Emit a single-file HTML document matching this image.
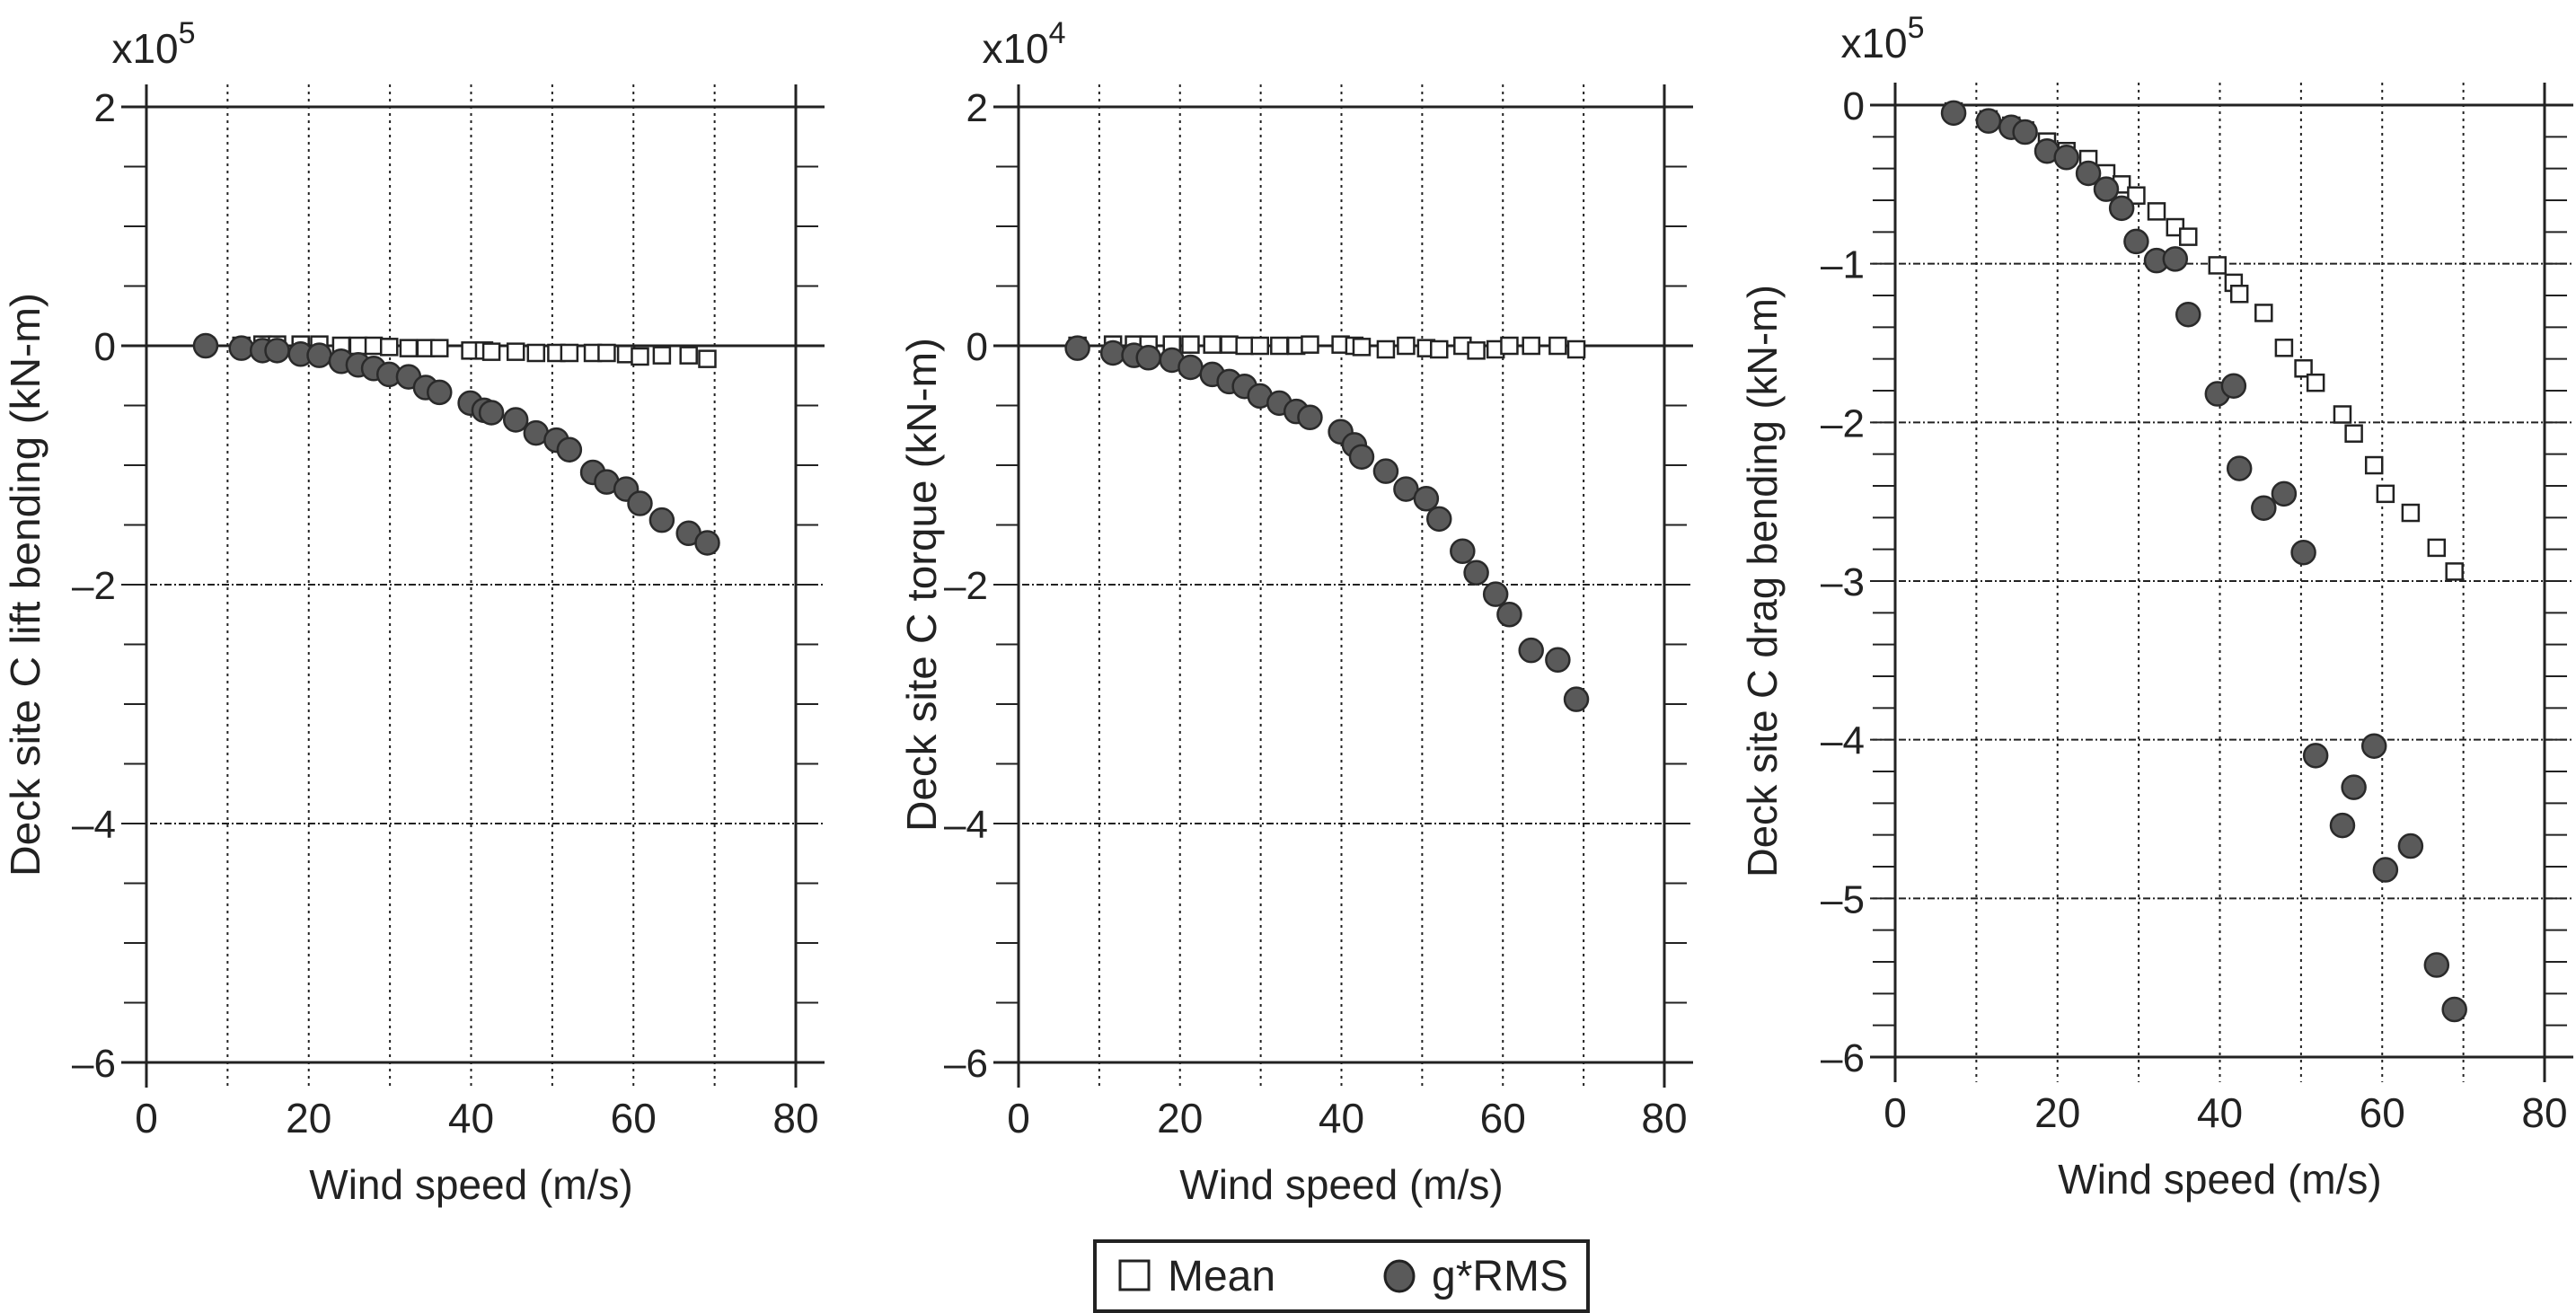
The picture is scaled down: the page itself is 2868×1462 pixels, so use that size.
<!DOCTYPE html>
<html><head><meta charset="utf-8"><style>
html,body{margin:0;padding:0;background:#fff;}
svg{display:block;font-family:"Liberation Sans",Arial,sans-serif;}
</style></head><body>
<svg id="chart" width="2868" height="1462" viewBox="0 0 2868 1462" xmlns="http://www.w3.org/2000/svg">
<g id="plots"></g>
<g>
<rect x="1219" y="1382" width="549" height="78" fill="#fff" stroke="#222" stroke-width="4"/>
<rect x="1247" y="1404" width="32" height="32" fill="#fff" stroke="#222" stroke-width="3"/>
<text x="1300" y="1437" font-size="48" fill="#222">Mean</text>
<ellipse cx="1558" cy="1421" rx="16" ry="17" fill="#5a5a5a" stroke="#222" stroke-width="3"/>
<text x="1594" y="1437" font-size="48" fill="#222">g*RMS</text>
</g>
</svg>
<script>
const wind = [7.3,11.7,14.3,16.1,19,21.3,24,26.1,28,29.9,32.3,34.4,36.1,39.9,41.6,42.5,45.5,48,50.5,52.1,55,56.7,59.1,60.8,63.5,66.8,69.1];
const liftMean = [0,0,0.01,0.01,0.01,0.01,0,0,0,-0.01,-0.02,-0.02,-0.02,-0.04,-0.04,-0.05,-0.05,-0.06,-0.06,-0.06,-0.06,-0.06,-0.07,-0.09,-0.08,-0.08,-0.11];
const liftRms = [0,-0.02,-0.04,-0.04,-0.07,-0.08,-0.13,-0.16,-0.19,-0.24,-0.26,-0.35,-0.39,-0.48,-0.54,-0.56,-0.62,-0.73,-0.79,-0.87,-1.06,-1.14,-1.2,-1.32,-1.46,-1.57,-1.65];
const torqueMean = [0,0.01,0.01,0.01,0.01,0.01,0.01,0.01,0,0,0,0,0.01,0.01,0,-0.01,-0.03,0,-0.02,-0.03,0,-0.04,-0.03,0,0,0,-0.03];
const torqueRms = [-0.02,-0.06,-0.08,-0.1,-0.12,-0.18,-0.24,-0.3,-0.34,-0.42,-0.48,-0.55,-0.6,-0.72,-0.83,-0.93,-1.05,-1.2,-1.28,-1.45,-1.72,-1.9,-2.08,-2.25,-2.55,-2.63,-2.96];
const windDrag = [7.2,11.5,14.3,16,18.7,21.1,23.8,26,27.9,29.7,32.2,34.5,36.1,39.7,41.7,42.4,45.4,47.9,50.3,51.8,55.1,56.5,59,60.4,63.5,66.7,68.9];
const dragMean = [-0.04,-0.09,-0.13,-0.16,-0.23,-0.29,-0.34,-0.43,-0.5,-0.57,-0.67,-0.77,-0.83,-1.01,-1.12,-1.19,-1.31,-1.53,-1.66,-1.75,-1.95,-2.07,-2.27,-2.45,-2.57,-2.79,-2.94];
const dragRms = [-0.05,-0.1,-0.14,-0.17,-0.29,-0.33,-0.43,-0.53,-0.65,-0.86,-0.98,-0.97,-1.32,-1.82,-1.77,-2.29,-2.54,-2.45,-2.82,-4.1,-4.54,-4.3,-4.04,-4.82,-4.67,-5.42,-5.7];
const xTicks = [0,20,40,60,80];
const yTicksA = [2,0,-2,-4,-6];
const yTicksC = [0,-1,-2,-3,-4,-5,-6];

const NS="http://www.w3.org/2000/svg";
const root=document.getElementById('plots');
function mk(tag,attrs,parent){const e=document.createElementNS(NS,tag);for(const k in attrs)e.setAttribute(k,attrs[k]);(parent||root).appendChild(e);return e;}

function panel(o){
  const g=mk('g',{});
  
  
  const xs=v=>o.L+(v-0)/80*(o.R-o.L);
  const ys=v=>o.T+(o.ymax-v)/(o.ymax-o.ymin)*(o.B-o.T);
  for(let v=0;v<=80;v+=10){
    const solid=(v===0||v===80);
    const l=mk('line',{x1:xs(v),x2:xs(v),y1:o.T-25,y2:o.B+28,stroke:'#222','stroke-width':solid?3:2,'stroke-dasharray':solid?'':'3,5'},g);
    
    
  }
  for(let v=o.ymax;v>=o.ymin-1e-9;v-=o.major){
    const solid=(Math.abs(v-o.ymax)<1e-9||Math.abs(v-o.ymin)<1e-9||(o.zeroSolid&&Math.abs(v)<1e-9));
    const l=mk('line',{x1:o.L-28,x2:o.R+32,y1:ys(v),y2:ys(v),stroke:'#222','stroke-width':solid?3:2,'stroke-dasharray':solid?'':'8,3,2,3'},g);
    
    
  }
  for(let v=o.ymax;v>=o.ymin-1e-9;v-=o.minor){
    mk('line',{x1:o.L-25,x2:o.L,y1:ys(v),y2:ys(v),stroke:'#222','stroke-width':2},g);
    mk('line',{x1:o.R,x2:o.R+25,y1:ys(v),y2:ys(v),stroke:'#222','stroke-width':2},g);
  }
  xTicks.forEach(v=>{
    const t=mk('text',{x:xs(v),y:o.B+78,'font-size':46,'text-anchor':'middle',fill:'#222'},g);
    
    
    t.textContent=v;
  });
  o.yTicks.forEach(v=>{
    const t=mk('text',{x:o.L-34,y:ys(v)+16,'font-size':44,'text-anchor':'end',fill:'#222'},g);
    
    
    t.textContent=v<0?'\u2013'+(-v):String(v);
  });
  const ex=mk('text',{x:o.L+o.expDx,y:o.expY,'font-size':46,fill:'#222','text-anchor':'middle'},g);
  
  
  ex.innerHTML='x10<tspan dy="-22" font-size="34">'+o.exp+'</tspan>';
  const xt=mk('text',{x:(o.L+o.R)/2,y:o.B+152,'font-size':46,'text-anchor':'middle',fill:'#222'},g);
  
  
  xt.textContent='Wind speed (m/s)';
  const yt=mk('text',{x:o.ytX,y:(o.T+o.B)/2,'font-size':46,'text-anchor':'middle',fill:'#222',transform:'rotate(-90 '+o.ytX+' '+(o.T+o.B)/2+')',textLength:o.ytLen,lengthAdjust:'spacingAndGlyphs'},g);
  
  
  yt.textContent=o.ytitle;
  o.wind.forEach((w,i)=>{
    const s=mk('rect',{x:xs(w)-9,y:ys(o.mean[i])-9,width:18,height:18,fill:'#fff',stroke:'#222','stroke-width':2.5},g);
    
    
  });
  o.wind.forEach((w,i)=>{
    const c=mk('circle',{cx:xs(w),cy:ys(o.rms[i]),r:13,fill:'#5a5a5a',stroke:'#2a2a2a','stroke-width':2.5},g);
    
    
  });
}
panel({name:'lift-bending-panel',L:163,R:886,T:119,B:1183,ymax:2,ymin:-6,major:2,minor:0.5,zeroSolid:true,yTicks:yTicksA,exp:'5',expY:70,expDx:8,ytX:44,ytLen:650,ytitle:'Deck site C lift bending (kN-m)',wind:wind,mean:liftMean,rms:liftRms});
panel({name:'torque-panel',L:1134,R:1853,T:119,B:1183,ymax:2,ymin:-6,major:2,minor:0.5,zeroSolid:true,yTicks:yTicksA,exp:'4',expY:70,expDx:6,ytX:1042,ytLen:550,ytitle:'Deck site C torque (kN-m)',wind:wind,mean:torqueMean,rms:torqueRms});
panel({name:'drag-bending-panel',L:2110,R:2833,T:117,B:1177,ymax:0,ymin:-6,major:1,minor:0.2,zeroSolid:true,yTicks:yTicksC,exp:'5',expY:64,expDx:-14,ytX:1978,ytLen:660,ytitle:'Deck site C drag bending (kN-m)',wind:windDrag,mean:dragMean,rms:dragRms});
</script>
</body></html>
